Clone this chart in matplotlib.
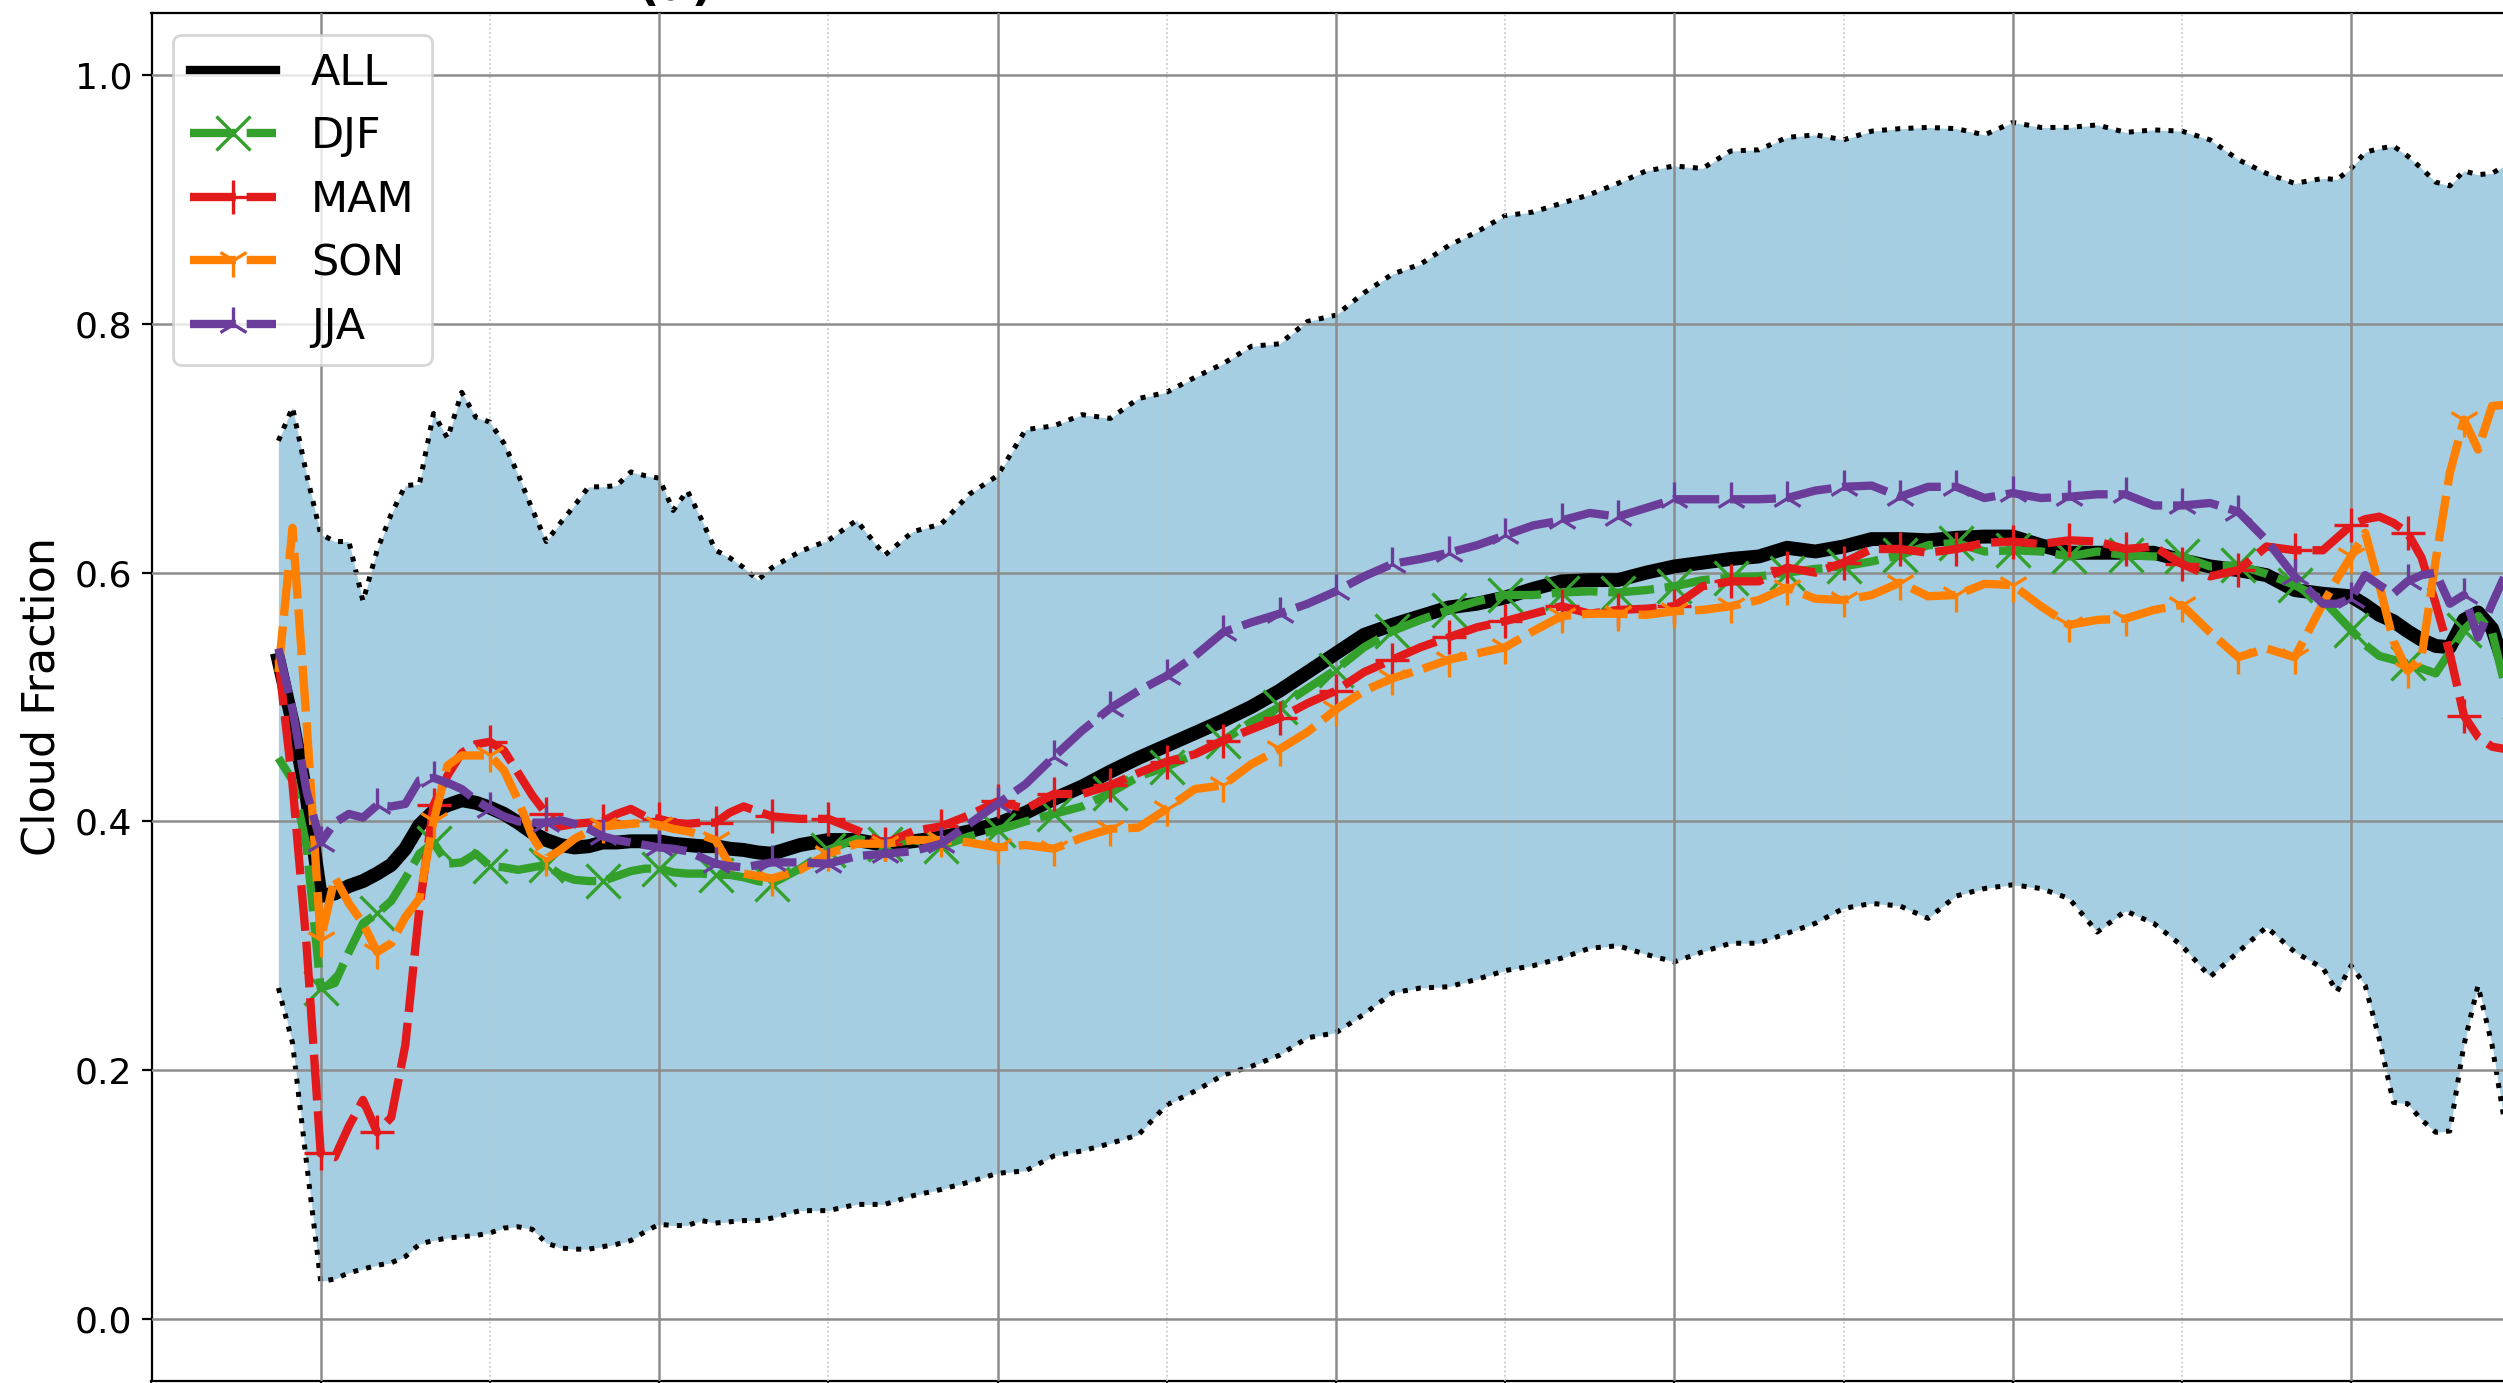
import numpy as np
import matplotlib.pyplot as plt
from matplotlib.ticker import MultipleLocator

# Eje x: paso 0.5 al inicio y al final, paso 1 en el tramo central
x = np.concatenate([np.arange(-1.5, 16.5, 0.5), np.arange(17, 72, 1.0), np.arange(71.5, 78.5, 0.5)])

# Envolvente (máximo / mínimo) de la fracción de nubes
upper = [0.706, 0.733, 0.679, 0.631, 0.625, 0.625, 0.577, 0.618, 0.647, 0.670, 0.671, 0.728,
         0.708, 0.745, 0.725, 0.721, 0.704, 0.679, 0.651, 0.625, 0.640, 0.654, 0.669, 0.669,
         0.670, 0.681, 0.678, 0.676, 0.650, 0.666, 0.643, 0.618, 0.612, 0.604, 0.594, 0.604,
         0.617, 0.626, 0.642, 0.614, 0.633, 0.639, 0.663, 0.678, 0.715, 0.718, 0.727,
         0.724, 0.740, 0.745, 0.757, 0.768, 0.782, 0.784, 0.802, 0.807, 0.825, 0.840,
         0.848, 0.863, 0.874, 0.887, 0.890, 0.897, 0.904, 0.913, 0.923, 0.927, 0.925,
         0.939, 0.940, 0.950, 0.952, 0.948, 0.955, 0.957, 0.958, 0.957, 0.952, 0.962,
         0.958, 0.958, 0.960, 0.954, 0.956, 0.955, 0.948, 0.932, 0.921, 0.913, 0.917,
         0.916, 0.925, 0.938, 0.941, 0.943, 0.935, 0.925, 0.914, 0.911, 0.923, 0.920, 0.921, 0.928, 0.930]
lower = [0.266, 0.222, 0.125, 0.030, 0.032, 0.037, 0.040, 0.043, 0.045, 0.050, 0.060, 0.063,
         0.065, 0.066, 0.067, 0.069, 0.073, 0.074, 0.072, 0.061, 0.057, 0.056, 0.056, 0.058,
         0.060, 0.063, 0.070, 0.076, 0.075, 0.075, 0.079, 0.077, 0.078, 0.079, 0.079, 0.081,
         0.087, 0.087, 0.092, 0.092, 0.099, 0.104, 0.110, 0.117, 0.119, 0.131, 0.135,
         0.141, 0.148, 0.172, 0.183, 0.196, 0.203, 0.212, 0.226, 0.230, 0.245, 0.262,
         0.266, 0.267, 0.273, 0.280, 0.284, 0.290, 0.298, 0.300, 0.293, 0.287, 0.295,
         0.302, 0.302, 0.310, 0.318, 0.330, 0.334, 0.332, 0.322, 0.340, 0.346, 0.349,
         0.346, 0.338, 0.311, 0.328, 0.318, 0.300, 0.275, 0.295, 0.315, 0.295, 0.282,
         0.263, 0.284, 0.268, 0.225, 0.174, 0.173, 0.160, 0.150, 0.151, 0.220, 0.268, 0.220, 0.150, 0.120]

# Series: todo el periodo y por estación
cf_all = [0.530, 0.480, 0.420, 0.340, 0.342, 0.348, 0.352, 0.358, 0.365, 0.378, 0.397, 0.408,
          0.413, 0.417, 0.415, 0.411, 0.406, 0.399, 0.391, 0.385, 0.381, 0.379, 0.380, 0.383,
          0.383, 0.384, 0.384, 0.384, 0.382, 0.381, 0.380, 0.380, 0.378, 0.377, 0.375, 0.374,
          0.381, 0.385, 0.385, 0.381, 0.384, 0.387, 0.392, 0.398, 0.407, 0.418, 0.428,
          0.440, 0.451, 0.461, 0.471, 0.481, 0.492, 0.505, 0.520, 0.535, 0.550, 0.558,
          0.565, 0.572, 0.575, 0.580, 0.587, 0.593, 0.594, 0.594, 0.600, 0.605, 0.608,
          0.611, 0.613, 0.620, 0.617, 0.621, 0.627, 0.627, 0.626, 0.628, 0.629, 0.629,
          0.622, 0.616, 0.616, 0.616, 0.616, 0.610, 0.605, 0.602, 0.598, 0.586, 0.583,
          0.582, 0.581, 0.574, 0.566, 0.561, 0.553, 0.546, 0.541, 0.540, 0.562, 0.568, 0.555, 0.520, 0.490]
cf_djf = [0.451, 0.433, 0.380, 0.266, 0.270, 0.295, 0.318, 0.326, 0.336, 0.354, 0.374, 0.383,
          0.366, 0.367, 0.374, 0.364, 0.363, 0.361, 0.363, 0.365, 0.357, 0.353, 0.352, 0.352,
          0.356, 0.360, 0.362, 0.362, 0.359, 0.358, 0.358, 0.357, 0.357, 0.355, 0.352, 0.350,
          0.362, 0.377, 0.386, 0.382, 0.385, 0.380, 0.388, 0.393, 0.400, 0.406, 0.412,
          0.423, 0.436, 0.444, 0.454, 0.465, 0.480, 0.492, 0.507, 0.522, 0.540, 0.553,
          0.562, 0.570, 0.577, 0.582, 0.582, 0.584, 0.585, 0.584, 0.586, 0.589, 0.594,
          0.596, 0.597, 0.600, 0.603, 0.605, 0.609, 0.614, 0.622, 0.624, 0.617, 0.618,
          0.617, 0.613, 0.617, 0.614, 0.613, 0.613, 0.605, 0.606, 0.599, 0.590, 0.578,
          0.566, 0.554, 0.542, 0.533, 0.530, 0.527, 0.523, 0.519, 0.536, 0.554, 0.565, 0.552, 0.505, 0.470]
cf_mam = [0.530, 0.430, 0.300, 0.133, 0.130, 0.155, 0.176, 0.150, 0.162, 0.220, 0.330, 0.413,
          0.437, 0.455, 0.462, 0.464, 0.457, 0.439, 0.421, 0.406, 0.396, 0.398, 0.399, 0.400,
          0.406, 0.410, 0.404, 0.402, 0.399, 0.398, 0.399, 0.399, 0.407, 0.412, 0.408, 0.404,
          0.402, 0.402, 0.393, 0.382, 0.392, 0.396, 0.405, 0.416, 0.410, 0.422, 0.422,
          0.429, 0.439, 0.448, 0.454, 0.465, 0.474, 0.483, 0.495, 0.505, 0.520, 0.530,
          0.540, 0.548, 0.556, 0.561, 0.567, 0.573, 0.567, 0.570, 0.571, 0.573, 0.589,
          0.593, 0.593, 0.604, 0.600, 0.608, 0.619, 0.619, 0.616, 0.619, 0.624, 0.625,
          0.623, 0.626, 0.625, 0.619, 0.621, 0.607, 0.597, 0.602, 0.621, 0.618, 0.618,
          0.628, 0.638, 0.643, 0.645, 0.640, 0.632, 0.612, 0.575, 0.535, 0.485, 0.468, 0.460, 0.458, 0.458]
cf_son = [0.520, 0.636, 0.480, 0.305, 0.355, 0.334, 0.318, 0.295, 0.302, 0.323, 0.338, 0.400,
          0.445, 0.453, 0.453, 0.453, 0.441, 0.417, 0.388, 0.370, 0.377, 0.386, 0.392, 0.396,
          0.397, 0.398, 0.399, 0.397, 0.394, 0.392, 0.389, 0.385, 0.365, 0.358, 0.356, 0.354,
          0.361, 0.374, 0.382, 0.382, 0.385, 0.385, 0.383, 0.379, 0.381, 0.378, 0.387,
          0.394, 0.395, 0.410, 0.426, 0.429, 0.446, 0.458, 0.472, 0.490, 0.505, 0.515,
          0.522, 0.530, 0.535, 0.540, 0.553, 0.565, 0.567, 0.567, 0.566, 0.569, 0.570,
          0.573, 0.578, 0.588, 0.579, 0.578, 0.582, 0.592, 0.581, 0.582, 0.591, 0.590,
          0.573, 0.558, 0.562, 0.563, 0.570, 0.574, 0.552, 0.532, 0.539, 0.532, 0.575,
          0.595, 0.613, 0.632, 0.590, 0.545, 0.521, 0.532, 0.610, 0.680, 0.723, 0.699, 0.734, 0.735, 0.735]
cf_jja = [0.539, 0.490, 0.424, 0.383, 0.399, 0.406, 0.403, 0.413, 0.412, 0.414, 0.433, 0.435,
          0.431, 0.426, 0.417, 0.410, 0.404, 0.400, 0.399, 0.399, 0.401, 0.398, 0.394, 0.388,
          0.385, 0.383, 0.381, 0.379, 0.378, 0.376, 0.371, 0.366, 0.364, 0.363, 0.365, 0.367,
          0.367, 0.366, 0.372, 0.374, 0.376, 0.382, 0.398, 0.414, 0.430, 0.452, 0.473,
          0.491, 0.505, 0.517, 0.533, 0.552, 0.560, 0.567, 0.575, 0.585, 0.597, 0.607,
          0.611, 0.616, 0.622, 0.630, 0.638, 0.642, 0.648, 0.645, 0.652, 0.659, 0.659,
          0.659, 0.659, 0.660, 0.666, 0.669, 0.670, 0.661, 0.669, 0.669, 0.660, 0.664,
          0.660, 0.661, 0.663, 0.663, 0.654, 0.654, 0.656, 0.649, 0.626, 0.597, 0.575,
          0.575, 0.579, 0.598, 0.590, 0.583, 0.593, 0.598, 0.600, 0.575, 0.582, 0.548, 0.575, 0.600, 0.610]

seasons = ['DJF', 'MAM', 'SON', 'JJA']
season_vals = [cf_djf, cf_mam, cf_son, cf_jja]
season_colors = ['#33a02c', '#e31a1c', '#ff7f00', '#6a3d9a']
season_markers = ['x', '+', '1', '2']

# marcadores solo en los valores pares de x
marks = np.where(np.isclose(x % 2, 0))[0].tolist()

fig = plt.figure(figsize=(2503 / 200, 1383 / 200), dpi=200)
ax = fig.add_axes([151.5 / 2503, 2 / 1383, 2538 / 2503, 1368 / 1383])

# Banda min-max
ax.fill_between(x, lower, upper, color='#a6cee3', lw=0, zorder=1)
ax.plot(x, upper, color='black', ls=':', lw=1.8, zorder=2)
ax.plot(x, lower, color='black', ls=':', lw=1.8, zorder=2)

ax.plot(x, cf_all, color='black', lw=5.0, label='ALL', zorder=3)
for name, vals, col, mk in zip(seasons, season_vals, season_colors, season_markers):
    ax.plot(x, vals, color=col, lw=3.0, ls=(0, (5.5, 1.3)), marker=mk, ms=12, mew=1.2,
            markevery=marks, label=name, zorder=3)

ax.set_xlim(-6, 84)
ax.set_ylim(-0.05, 1.05)
ax.xaxis.set_major_locator(MultipleLocator(12))
ax.xaxis.set_minor_locator(MultipleLocator(6))
ax.yaxis.set_major_locator(MultipleLocator(0.2))
ax.set_axisbelow(False)
ax.grid(which='major', color='#8c8c8c', lw=0.9)
ax.grid(which='minor', axis='x', color='#c4c4c4', ls=':', lw=0.6)
ax.tick_params(axis='y', labelsize=13)
# las etiquetas del eje x quedan fuera de la imagen recortada
ax.tick_params(axis='x', which='both', labelbottom=False)
ax.set_ylabel('Cloud Fraction', fontsize=16)

leg = ax.legend(loc='upper left', fontsize=15.5)
leg.get_lines()[0].set_linewidth(3)

# título del panel (queda casi fuera de la figura)
fig.text(638 / 2503, 1.0, '(a)', fontsize=17, fontweight='bold', va='baseline', ha='left')

plt.savefig('out.png', dpi=200)
